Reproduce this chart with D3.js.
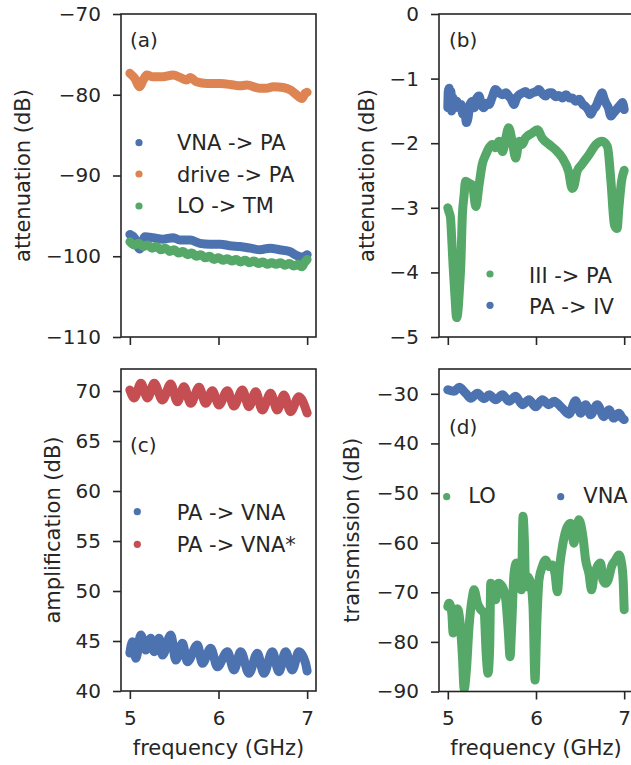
<!DOCTYPE html>
<html><head><meta charset="utf-8">
<script src="https://cdn.jsdelivr.net/npm/d3@7"></script>
<style>body{margin:0;background:#fff} text{font-family:"DejaVu Sans",sans-serif;fill:#262626}</style>
</head><body><svg id="c" width="631" height="765"></svg>
<script>
// ---------- data (frequency GHz, value dB) ----------
const xTicks = [5, 6, 7];
const aTicks = [-110, -100, -90, -80, -70];
const bTicks = [-5, -4, -3, -2, -1, 0];
const cTicks = [40, 45, 50, 55, 60, 65, 70];
const dTicks = [-90, -80, -70, -60, -50, -40, -30];

const aVnaToPa = [[5.0,-97.3],[5.056,-97.8],[5.11,-99.1],[5.17,-97.6],[5.26,-97.7],[5.37,-97.9],[5.49,-97.7],[5.565,-98.0],[5.68,-98.0],[5.79,-98.4],[5.9,-98.5],[6.02,-98.5],[6.13,-98.7],[6.24,-98.8],[6.36,-99.0],[6.47,-99.2],[6.58,-99.0],[6.69,-99.2],[6.81,-99.45],[6.88,-99.9],[6.94,-100.1],[7.0,-99.8]];
const aDriveToPa = [[5.0,-77.35],[5.056,-77.97],[5.11,-79.0],[5.15,-78.2],[5.19,-77.56],[5.26,-77.77],[5.37,-77.77],[5.49,-77.56],[5.565,-77.85],[5.64,-78.18],[5.68,-77.85],[5.75,-78.39],[5.87,-78.6],[6.02,-78.6],[6.17,-78.8],[6.24,-78.9],[6.32,-78.8],[6.47,-79.2],[6.54,-79.2],[6.62,-79.0],[6.73,-79.1],[6.81,-79.4],[6.88,-80.0],[6.94,-80.45],[6.98,-79.8],[7.0,-79.7]];
const aLoToTm = [[5.0,-98.2],[5.05,-98.6],[5.1,-98.4],[5.15,-98.8],[5.2,-98.6],[5.25,-99.0],[5.3,-98.8],[5.35,-99.2],[5.4,-99.0],[5.45,-99.4],[5.5,-99.2],[5.55,-99.6],[5.6,-99.4],[5.65,-99.8],[5.7,-99.6],[5.75,-100.0],[5.8,-99.8],[5.85,-100.2],[5.9,-100.0],[5.95,-100.4],[6.0,-100.2],[6.05,-100.5],[6.1,-100.3],[6.15,-100.6],[6.2,-100.4],[6.25,-100.7],[6.3,-100.5],[6.35,-100.8],[6.4,-100.6],[6.45,-100.9],[6.5,-100.7],[6.55,-101.0],[6.6,-100.8],[6.65,-101.0],[6.7,-100.8],[6.75,-101.1],[6.8,-100.9],[6.85,-101.2],[6.9,-101.0],[6.94,-101.3],[6.97,-100.8],[7.0,-100.4]];

const bIIIToPa = [[5.0,-3.0],[5.01,-3.05],[5.03,-3.15],[5.045,-3.5],[5.06,-3.9],[5.08,-4.35],[5.1,-4.7],[5.115,-4.6],[5.13,-4.3],[5.147,-3.89],[5.165,-3.11],[5.185,-2.8],[5.2,-2.59],[5.24,-2.62],[5.28,-2.65],[5.317,-2.98],[5.354,-2.65],[5.39,-2.33],[5.43,-2.18],[5.468,-2.07],[5.505,-2.02],[5.54,-2.07],[5.58,-1.97],[5.62,-2.13],[5.657,-1.92],[5.69,-1.76],[5.73,-1.97],[5.77,-2.23],[5.81,-1.97],[5.845,-2.02],[5.88,-1.92],[5.96,-1.84],[6.015,-1.79],[6.07,-1.92],[6.15,-2.02],[6.22,-2.1],[6.3,-2.23],[6.37,-2.44],[6.41,-2.7],[6.43,-2.67],[6.465,-2.44],[6.52,-2.33],[6.6,-2.18],[6.68,-2.02],[6.75,-1.97],[6.81,-2.05],[6.85,-2.59],[6.89,-3.27],[6.92,-3.32],[6.94,-3.0],[6.97,-2.59],[7.0,-2.42]];
const bPaToIV = [[5.0,-1.45],[5.005,-1.2],[5.015,-1.15],[5.025,-1.4],[5.035,-1.2],[5.045,-1.5],[5.06,-1.3],[5.08,-1.45],[5.1,-1.35],[5.128,-1.45],[5.15,-1.4],[5.17,-1.55],[5.19,-1.45],[5.21,-1.68],[5.23,-1.6],[5.25,-1.4],[5.28,-1.35],[5.3,-1.45],[5.33,-1.3],[5.354,-1.27],[5.38,-1.4],[5.41,-1.45],[5.44,-1.38],[5.468,-1.4],[5.5,-1.3],[5.54,-1.17],[5.58,-1.22],[5.62,-1.25],[5.66,-1.22],[5.69,-1.27],[5.72,-1.32],[5.75,-1.4],[5.78,-1.3],[5.81,-1.25],[5.85,-1.22],[5.88,-1.2],[5.92,-1.25],[5.96,-1.22],[6.0,-1.2],[6.03,-1.17],[6.07,-1.23],[6.11,-1.27],[6.15,-1.22],[6.18,-1.22],[6.22,-1.28],[6.26,-1.26],[6.3,-1.3],[6.34,-1.25],[6.38,-1.3],[6.41,-1.3],[6.45,-1.35],[6.49,-1.32],[6.53,-1.4],[6.56,-1.43],[6.6,-1.5],[6.62,-1.55],[6.65,-1.48],[6.68,-1.43],[6.72,-1.3],[6.75,-1.22],[6.77,-1.3],[6.79,-1.37],[6.82,-1.45],[6.85,-1.58],[6.87,-1.55],[6.9,-1.5],[6.93,-1.45],[6.96,-1.4],[6.98,-1.37],[7.0,-1.48]];

const cPaToVna = [[5.0,43.8],[5.03,44.93],[5.068,43.27],[5.124,45.6],[5.18,44.1],[5.236,45.27],[5.274,43.93],[5.33,45.27],[5.368,43.6],[5.462,45.6],[5.518,43.1],[5.593,44.77],[5.649,42.93],[5.762,44.6],[5.818,42.77],[5.912,44.27],[5.987,42.43],[6.1,43.93],[6.175,42.1],[6.25,43.93],[6.344,41.77],[6.438,43.77],[6.513,41.77],[6.607,43.93],[6.682,41.93],[6.757,43.93],[6.832,42.1],[6.907,43.93],[6.982,42.77],[7.0,42.0]];
const cPaToVnaStar = [[5.0,70.1],[5.05,69.3],[5.124,70.77],[5.2,69.3],[5.274,70.77],[5.368,69.1],[5.46,70.7],[5.537,68.93],[5.61,70.43],[5.687,68.77],[5.78,70.37],[5.856,68.77],[5.93,70.03],[6.006,68.6],[6.1,70.03],[6.174,68.5],[6.27,70.1],[6.343,68.43],[6.42,69.93],[6.494,68.1],[6.588,69.77],[6.663,68.1],[6.738,69.6],[6.813,67.93],[6.907,69.43],[7.0,67.8]];

const dLo = [[5.0,-72.9],[5.015,-72.2],[5.045,-74.2],[5.06,-78.2],[5.09,-73.5],[5.109,-73.3],[5.136,-75.6],[5.166,-83],[5.185,-89.5],[5.211,-85.6],[5.241,-76.9],[5.279,-70.9],[5.298,-69.5],[5.336,-72.2],[5.373,-73.5],[5.411,-74.2],[5.437,-83],[5.456,-86.3],[5.475,-80.9],[5.487,-68.2],[5.513,-69.5],[5.543,-71.5],[5.573,-68.2],[5.619,-68.9],[5.657,-71.5],[5.687,-78.2],[5.706,-83],[5.724,-76.9],[5.751,-66.2],[5.777,-64.1],[5.807,-67.5],[5.834,-69.5],[5.853,-54.7],[5.868,-59.4],[5.883,-68.9],[5.902,-66.8],[5.94,-68.2],[5.966,-72.9],[5.989,-87.7],[6.008,-76.9],[6.034,-67.5],[6.072,-64.8],[6.11,-63.5],[6.147,-64.8],[6.185,-64.5],[6.215,-66.2],[6.242,-69.9],[6.268,-64.8],[6.306,-60.1],[6.355,-56.8],[6.393,-56.1],[6.43,-60.1],[6.457,-57.4],[6.487,-55.4],[6.532,-58.8],[6.563,-63.5],[6.6,-66.2],[6.63,-69.5],[6.657,-66.8],[6.695,-64.8],[6.732,-64.1],[6.759,-67.5],[6.789,-68.2],[6.819,-67.5],[6.857,-64.8],[6.902,-63.5],[6.94,-62.5],[6.97,-64.1],[6.99,-68.2],[7.0,-73.5]];
const dVna = [[5.0,-29.2],[5.071,-29.5],[5.128,-28.7],[5.204,-29.9],[5.26,-30.9],[5.336,-29.9],[5.411,-31.0],[5.468,-30.2],[5.543,-31.2],[5.619,-30.2],[5.694,-31.5],[5.77,-30.5],[5.845,-32.2],[5.921,-31.2],[5.996,-32.6],[6.072,-31.2],[6.147,-32.2],[6.204,-31.5],[6.298,-32.9],[6.374,-34.1],[6.449,-31.4],[6.506,-33.9],[6.563,-32.2],[6.619,-34.2],[6.695,-32.2],[6.77,-34.6],[6.827,-33.2],[6.883,-34.9],[6.94,-33.9],[6.98,-34.9],[7.0,-35.2]];

// ---------- styling / layout ----------
const C = {blue:"#4C72B0", orange:"#DD8452", green:"#55A868", red:"#C44E52"};
const ink = "#262626";
const svg = d3.select("#c");

const panels = [
  {id:"a", x0:121, x1:316, y0:14, y1:337, dom:[-110,-70], ticks:aTicks, ylabel:"attenuation (dB)", ylx:30,
   letter:[130,46.5,"(a)"], xlab:false,
   series:[[aVnaToPa,C.blue],[aDriveToPa,C.orange],[aLoToTm,C.green]],
   legend:[[139,142.7,177,150,"VNA -> PA",C.blue],[139,174,177,181.7,"drive -> PA",C.orange],[139,206,177,213.3,"LO -> TM",C.green]]},
  {id:"b", x0:439, x1:633, y0:14, y1:337, dom:[-5,0], ticks:bTicks, ylabel:"attenuation (dB)", ylx:374,
   letter:[449,46.5,"(b)"], xlab:false,
   series:[[bIIIToPa,C.green],[bPaToIV,C.blue]],
   legend:[[490,274,529,282.7,"III -> PA",C.green],[490,305.3,529,314,"PA -> IV",C.blue]]},
  {id:"c", x0:121, x1:316, y0:369, y1:691, dom:[40,72.2], ticks:cTicks, ylabel:"amplification (dB)", ylx:60,
   letter:[130,452,"(c)"], xlab:true,
   series:[[cPaToVna,C.blue],[cPaToVnaStar,C.red]],
   legend:[[137.3,511.7,176.7,520,"PA -> VNA",C.blue],[137.3,544.3,176.7,551.7,"PA -> VNA*",C.red]]},
  {id:"d", x0:439, x1:633, y0:369, y1:691.5, dom:[-90,-25], ticks:dTicks, ylabel:"transmission (dB)", ylx:359,
   letter:[449,433.5,"(d)"], xlab:true,
   series:[[dLo,C.green],[dVna,C.blue]],
   legend:[[446.7,496.7,468.3,503.3,"LO",C.green],[560.7,496.7,583.3,503.3,"VNA",C.blue]]}
];

const fmt = d3.format("d");

panels.forEach(p => {
  const x = d3.scaleLinear().domain([4.9,7.1]).range([p.x0,p.x1]);
  const y = d3.scaleLinear().domain(p.dom).range([p.y1,p.y0]);
  const g = svg.append("g");
  g.append("clipPath").attr("id","clip"+p.id).append("rect")
    .attr("x",p.x0).attr("y",p.y0).attr("width",p.x1-p.x0).attr("height",p.y1-p.y0);

  const line = d3.line().x(d=>x(d[0])).y(d=>y(d[1])).curve(d3.curveMonotoneX);
  const plot = g.append("g").attr("clip-path",`url(#clip${p.id})`);
  p.series.forEach(([data,col]) => {
    plot.append("path").datum(data).attr("d",line)
      .attr("fill","none").attr("stroke",col).attr("stroke-width",9)
      .attr("stroke-linejoin","round").attr("stroke-linecap","round");
  });

  // axes
  const ya = d3.axisLeft(y).tickValues(p.ticks).tickSize(8).tickPadding(12).tickSizeOuter(0).tickFormat(fmt);
  const yg = g.append("g").attr("transform",`translate(${p.x0},0)`).call(ya);
  const xa = d3.axisBottom(x).tickValues(xTicks).tickSize(8).tickPadding(11.5).tickSizeOuter(0)
    .tickFormat(p.xlab ? fmt : () => "");
  const xg = g.append("g").attr("transform",`translate(0,${p.y1})`).call(xa);
  [yg,xg].forEach(a => {
    a.select(".domain").remove();
    a.selectAll("line").attr("stroke",ink).attr("stroke-width",1.6);
    a.selectAll("text").attr("font-family","DejaVu Sans").attr("font-size",20).attr("fill",ink);
  });

  // frame
  g.append("rect").attr("x",p.x0).attr("y",p.y0).attr("width",p.x1-p.x0).attr("height",p.y1-p.y0)
    .attr("fill","none").attr("stroke",ink).attr("stroke-width",1.6);

  // y label
  g.append("text").attr("transform",`translate(${p.ylx},${(p.y0+p.y1)/2}) rotate(-90)`)
    .attr("text-anchor","middle").attr("font-size",21).text(p.ylabel);
  if (p.xlab) {
    g.append("text").attr("x",(p.x0+p.x1)/2).attr("y",755).attr("text-anchor","middle")
      .attr("font-size",21).text("frequency (GHz)");
  }
  // letter
  g.append("text").attr("x",p.letter[0]).attr("y",p.letter[1]).attr("font-size",20).text(p.letter[2]);
  // legend
  p.legend.forEach(([mx,my,tx,ty,label,col]) => {
    g.append("circle").attr("cx",mx).attr("cy",my).attr("r",3.6).attr("fill",col);
    g.append("text").attr("x",tx).attr("y",ty).attr("font-size",21).text(label);
  });
});
</script></body></html>
